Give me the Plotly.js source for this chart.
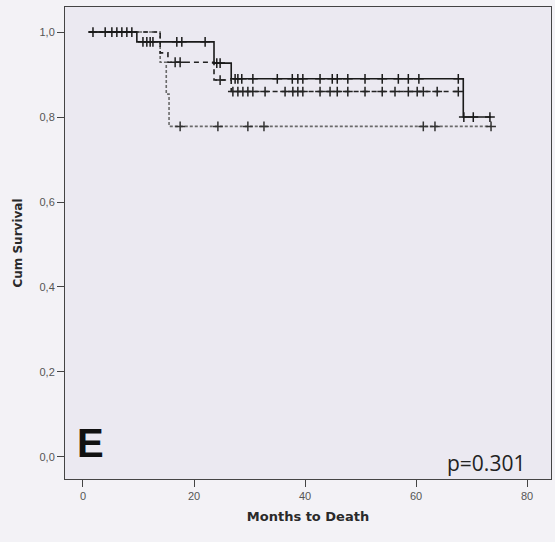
<!DOCTYPE html>
<html>
<head>
<meta charset="utf-8">
<script src="https://cdn.plot.ly/plotly-3.0.1.min.js"></script>
<style>html,body{margin:0;padding:0;background:#f3f2f6;}#chart{width:555px;height:542px;}</style>
</head>
<body>
<div id="chart"></div>
<script>
// Step curves (time of change, survival after change)
const solidT = [1.1, 9.7, 23.6, 26.7, 68.5, 73.5];
const solidS = [1.0, 0.977, 0.927, 0.890, 0.80, 0.80];
const dashedT = [1.1, 13.9, 15.3, 23.6, 26.7, 67.9];
const dashedS = [1.0, 0.951, 0.929, 0.887, 0.860, 0.860];
const dottedT = [1.1, 13.9, 15.0, 15.5, 73.5];
const dottedS = [1.0, 0.929, 0.854, 0.778, 0.778];

// Censored observations (months)
const solidCens = [1.8, 4.0, 5.2, 6.1, 7.0, 7.9, 8.8, 10.8, 11.5, 12.1, 12.6, 16.9, 17.8, 22.0, 24.1, 24.7,
  27.4, 27.9, 28.6, 30.6, 35.0, 37.7, 38.7, 39.6, 42.7, 44.9, 45.8, 47.7, 50.8, 53.9, 56.8, 58.6, 60.5, 67.6,
  68.6, 70.3, 73.3];
const dashedCens = [16.6, 17.5, 24.7, 27.0, 27.9, 28.8, 29.7, 30.6, 32.8, 36.4, 37.8, 38.7, 39.6, 42.7, 44.5,
  45.8, 47.7, 50.8, 53.9, 56.2, 58.6, 60.2, 61.3, 63.8, 67.6];
const dottedCens = [17.5, 24.3, 29.7, 32.6, 61.3, 63.4, 73.5];

const xTicks = [0, 20, 40, 60, 80];
const yTicks = [0, 0.2, 0.4, 0.6, 0.8, 1.0];
const yTickText = ['0,0', '0,2', '0,4', '0,6', '0,8', '1,0'];

function stepAt(T, S, t) {
  let v = S[0];
  for (let i = 0; i < T.length; i++) { if (T[i] <= t) v = S[i]; }
  return v;
}

function curve(T, S, color, dash) {
  return {x: T, y: S, type: 'scatter', mode: 'lines', line: {shape: 'hv', color: color, width: 1.6, dash: dash},
    hoverinfo: 'skip', showlegend: false};
}
function cens(C, T, S, color) {
  return {x: C, y: C.map(t => stepAt(T, S, t)), type: 'scatter', mode: 'markers',
    marker: {symbol: 'cross-thin', size: 7, line: {color: color, width: 1.5}, color: color},
    hoverinfo: 'skip', showlegend: false};
}

const data = [
  curve(dottedT, dottedS, '#6a6a6a', '3px,2px'),
  curve(dashedT, dashedS, '#222', '5px,4px'),
  curve(solidT, solidS, '#1a1a1a', 'solid'),
  cens(dottedCens, dottedT, dottedS, '#333'),
  cens(dashedCens, dashedT, dashedS, '#222'),
  cens(solidCens, solidT, solidS, '#1a1a1a')
];

const layout = {
  width: 555, height: 542,
  margin: {l: 65, r: 4, t: 7, b: 63},
  paper_bgcolor: '#f3f2f6',
  plot_bgcolor: '#ebe9f1',
  font: {family: 'Liberation Sans, Arial, sans-serif', color: '#444'},
  xaxis: {
    range: [-3.24, 84.3], tickvals: xTicks, ticktext: xTicks.map(String),
    ticks: 'outside', ticklen: 7, tickcolor: '#444', tickwidth: 1,
    showline: true, linecolor: '#444', linewidth: 1, mirror: true,
    showgrid: false, zeroline: false, tickfont: {size: 11, color: '#555'},
    title: {text: '<b>Months to Death</b>', font: {size: 13, color: '#2a2a2a', family: 'DejaVu Sans, sans-serif'}, standoff: 10}
  },
  yaxis: {
    range: [-0.052, 1.059], tickvals: yTicks, ticktext: yTickText,
    ticks: 'outside', ticklen: 7, tickcolor: '#444', tickwidth: 1,
    showline: true, linecolor: '#444', linewidth: 1, mirror: true,
    showgrid: false, zeroline: false, tickfont: {size: 11, color: '#555'},
    title: {text: '<b>Cum Survival</b>', font: {size: 12, color: '#2a2a2a', family: 'DejaVu Sans, sans-serif'}, standoff: 14}
  },
  annotations: [
    {x: 1.4, y: 0.033, xref: 'x', yref: 'y', text: '<b>E</b>', showarrow: false,
      xanchor: 'center', yanchor: 'middle',
      font: {size: 40, color: '#111', family: 'Liberation Sans, Arial, sans-serif'}},
    {x: 0, y: 0, xref: 'paper', yref: 'paper', text: 'p=0.301', showarrow: false,
      xanchor: 'center', yanchor: 'middle',
      font: {size: 21, color: '#222', family: 'Open Sans, sans-serif'}}
  ]
};
// place p-value annotation at its pixel position (plot area 486 x 472 from left 65 / bottom 479)
layout.annotations[1].x = (486 - 65) / 486;
layout.annotations[1].y = (479 - 463) / 472;

Plotly.newPlot('chart', data, layout, {displayModeBar: false, staticPlot: true});
</script>
</body>
</html>
